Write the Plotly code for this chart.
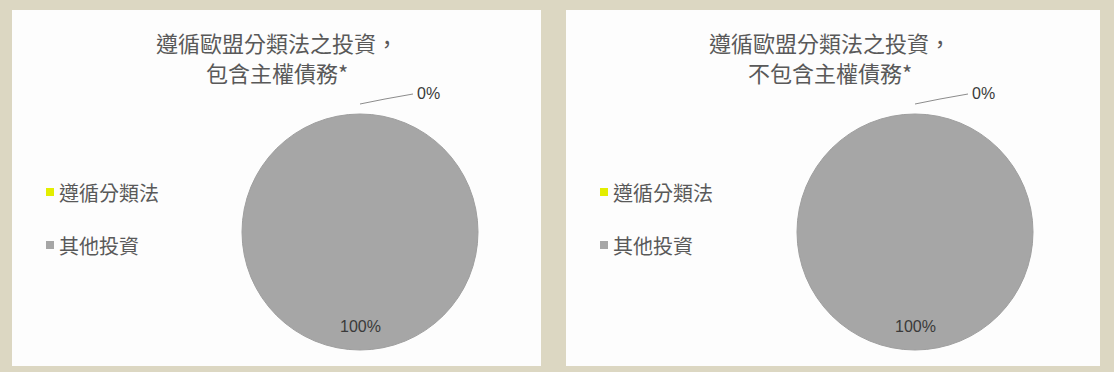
import plotly.graph_objects as go

# ---- data ----
categories = ["遵循分類法", "其他投資"]
values_incl = [0, 100]     # including sovereign bonds
values_excl = [0, 100]     # excluding sovereign bonds
title_line1 = ["遵循歐盟分類法之投資，", "遵循歐盟分類法之投資，"]
title_line2 = ["包含主權債務*", "不包含主權債務*"]
slice_colors = ["#e3ee00", "#a6a6a6"]

W, H = 1114, 372
def px(x):
    return x / W
def py(y):
    return 1 - y / H

fig = go.Figure()

panels = [
    dict(x0=12, x1=541, pie_cx=360, title_cx=277, vals=values_incl, t1=title_line1[0], t2=title_line2[0]),
    dict(x0=566, x1=1100, pie_cx=915, title_cx=830, vals=values_excl, t1=title_line1[1], t2=title_line2[1]),
]
R = 118
PIE_CY = 232

shapes = []
annotations = []
for p in panels:
    shapes.append(dict(type="rect", xref="paper", yref="paper", layer="below",
                       x0=px(p["x0"]), x1=px(p["x1"]), y0=py(366), y1=py(10),
                       fillcolor="#fdfdfd", line=dict(width=0)))
    fig.add_trace(go.Pie(
        labels=categories, values=p["vals"], sort=False, direction="clockwise",
        rotation=90, textinfo="none", showlegend=False,
        marker=dict(colors=slice_colors, line=dict(color="#9f9f9f", width=1)),
        domain=dict(x=[px(p["pie_cx"] - R), px(p["pie_cx"] + R)],
                    y=[py(PIE_CY + R), py(PIE_CY - R)]),
    ))
    total = sum(p["vals"])
    pct = [f"{v / total * 100:.0f}%" for v in p["vals"]]
    # title (two lines)
    for txt, ty in ((p["t1"], 42), (p["t2"], 72)):
        annotations.append(dict(text=txt, xref="paper", yref="paper",
                                x=px(p["title_cx"]), y=py(ty), xanchor="center", yanchor="middle",
                                showarrow=False,
                                font=dict(family="Noto Sans CJK TC", size=22, color="#595959")))
    # 0% label with leader line
    cx = p["pie_cx"]
    shapes.append(dict(type="path", xref="paper", yref="paper",
                       path=f"M {px(cx)} {py(104)} L {px(cx + 25)} {py(99)} L {px(cx + 53)} {py(94)}",
                       line=dict(color="#8c8c8c", width=1)))
    annotations.append(dict(text=pct[0], xref="paper", yref="paper",
                            x=px(cx + 55), y=py(93), xanchor="left", yanchor="middle",
                            showarrow=False,
                            font=dict(family="Liberation Sans", size=16, color="#3a3a3a")))
    # 100% label
    annotations.append(dict(text=pct[1], xref="paper", yref="paper",
                            x=px(cx), y=py(326), xanchor="center", yanchor="middle",
                            showarrow=False,
                            font=dict(family="Liberation Sans", size=16, color="#3a3a3a")))
    # legend
    lx = p["x0"] + 34
    for i, (cat, col) in enumerate(zip(categories, slice_colors)):
        ly = 192 + 53 * i
        shapes.append(dict(type="rect", xref="paper", yref="paper",
                           x0=px(lx), x1=px(lx + 8), y0=py(ly + 4), y1=py(ly - 4),
                           fillcolor=col, line=dict(width=0)))
        annotations.append(dict(text=cat, xref="paper", yref="paper",
                                x=px(lx + 11), y=py(ly), xanchor="left", yanchor="middle",
                                showarrow=False,
                                font=dict(family="Noto Sans CJK TC", size=20, color="#595959")))

fig.update_layout(
    width=W, height=H, margin=dict(l=0, r=0, t=0, b=0),
    paper_bgcolor="#dcd7c2", plot_bgcolor="#dcd7c2",
    shapes=shapes, annotations=annotations,
)

fig.write_html("out.html")
